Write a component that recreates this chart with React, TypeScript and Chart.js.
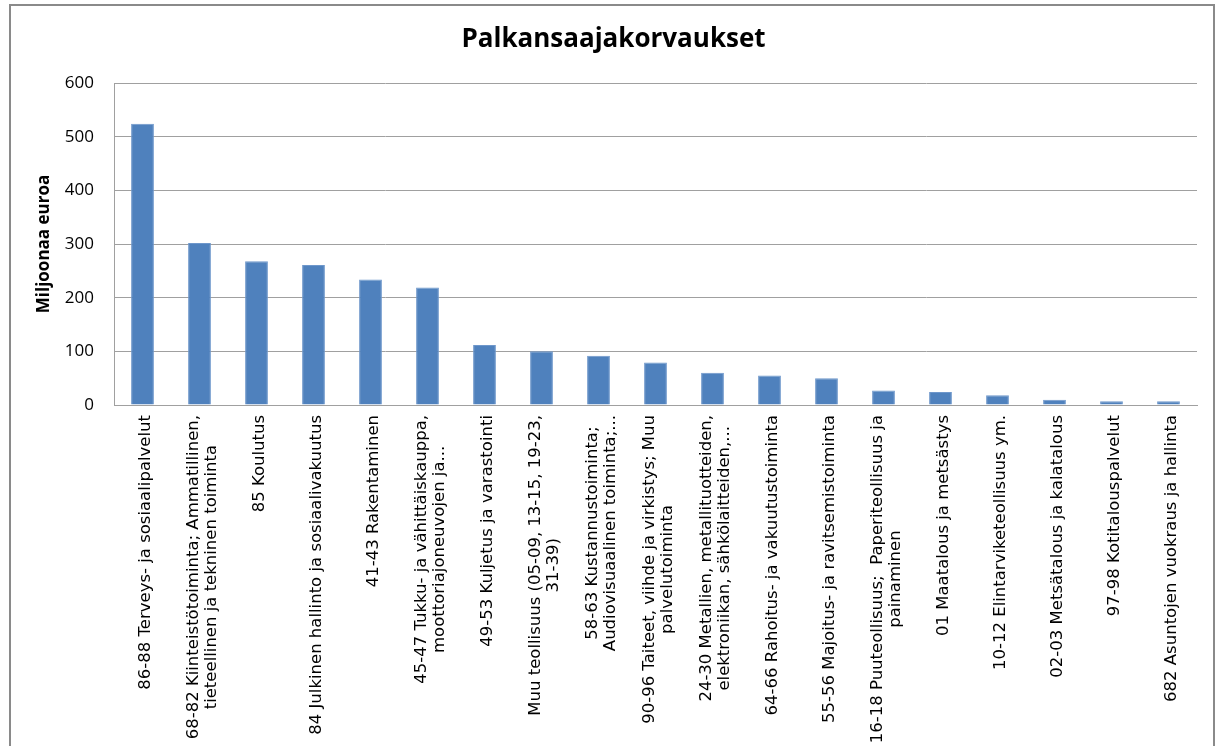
import React, { useEffect, useRef } from "react";
import { Chart, registerables } from "chart.js";

Chart.register(...registerables);

const categories: (string | string[])[] = [
  "86-88 Terveys- ja sosiaalipalvelut",
  ["68-82 Kiinteistötoiminta; Ammatillinen,", "tieteellinen ja tekninen toiminta"],
  "85 Koulutus",
  "84 Julkinen hallinto ja sosiaalivakuutus",
  "41-43 Rakentaminen",
  ["45-47 Tukku- ja vähittäiskauppa,", "moottoriajoneuvojen ja..."],
  "49-53 Kuljetus ja varastointi",
  ["Muu teollisuus (05-09, 13-15, 19-23,", "31-39)"],
  ["58-63 Kustannustoiminta;", "Audiovisuaalinen toiminta;..."],
  ["90-96 Taiteet, viihde ja virkistys; Muu", "palvelutoiminta"],
  ["24-30 Metallien, metallituotteiden,", "elektroniikan, sähkölaitteiden,..."],
  "64-66 Rahoitus- ja vakuutustoiminta",
  "55-56 Majoitus- ja ravitsemistoiminta",
  ["16-18 Puuteollisuus;  Paperiteollisuus ja", "painaminen"],
  "01 Maatalous ja metsästys",
  "10-12 Elintarviketeollisuus ym.",
  "02-03 Metsätalous ja kalatalous",
  "97-98 Kotitalouspalvelut",
  "682 Asuntojen vuokraus ja hallinta",
];

const values: number[] = [524, 302, 268, 261, 234, 219, 112, 100, 92, 79, 60, 55, 50, 27, 24, 18, 10, 7, 7];

const yTicks: number[] = [0, 100, 200, 300, 400, 500, 600];

const chartTitle = "Palkansaajakorvaukset";
const yTitle = "Miljoonaa euroa";

const xLabelPlugin = {
  id: "xLabelsCentered",
  afterDraw(chart: any) {
    const ctx = chart.ctx as CanvasRenderingContext2D;
    const xs = chart.scales.x;
    ctx.save();
    ctx.font = '16.5px "DejaVu Sans"';
    ctx.fillStyle = "#000000";
    ctx.textBaseline = "middle";
    ctx.textAlign = "center";
    const lh = 18;
    categories.forEach((lbl, i) => {
      const lines = Array.isArray(lbl) ? lbl : [lbl];
      const maxW = Math.max(...lines.map((l) => ctx.measureText(l).width));
      const x = xs.getPixelForValue(i);
      const y = xs.top + 10;
      ctx.save();
      ctx.translate(x + 3, y + maxW / 2);
      ctx.rotate(-Math.PI / 2);
      lines.forEach((l, j) => {
        ctx.fillText(l, 0, (j - (lines.length - 1) / 2) * lh);
      });
      ctx.restore();
    });
    ctx.restore();
  },
};

export default function App() {
  const ref = useRef<HTMLCanvasElement>(null);
  useEffect(() => {
    const chart = new Chart(ref.current!, {
      type: "bar",
      data: {
        labels: categories.map((c) => (Array.isArray(c) ? c.join(" ") : c)),
        datasets: [
          {
            data: values,
            backgroundColor: "#4F81BD",
            borderColor: "#6E97CB",
            borderWidth: 1,
            barPercentage: 1,
            categoryPercentage: 0.4,
          },
        ],
      },
      options: {
        animation: false,
        responsive: false,
        devicePixelRatio: 1,
        layout: { padding: { left: 8, right: 0, top: 0, bottom: 0 } },
        plugins: {
          legend: { display: false },
          tooltip: { enabled: false },
          title: {
            display: true,
            text: chartTitle,
            color: "#000000",
            font: { family: '"Open Sans"', size: 26, weight: "bold", lineHeight: 1.2 },
            padding: { top: 24.4, bottom: 27.4 },
          },
        },
        scales: {
          x: {
            grid: { display: false, drawTicks: false },
            border: { display: true, color: "#a0a0a0", width: 1 },
            ticks: { display: false },
            afterFit: (s: any) => {
              s.height = 341;
            },
          },
          y: {
            min: 0,
            max: 600,
            afterBuildTicks: (s: any) => {
              s.ticks = yTicks.map((v) => ({ value: v }));
            },
            grid: { color: "#a0a0a0", lineWidth: 1, drawTicks: false },
            border: { display: true, color: "#a0a0a0", width: 1 },
            ticks: {
              padding: 20,
              color: "#000000",
              font: { family: '"Open Sans"', size: 17 },
            },
            title: {
              display: true,
              text: yTitle,
              color: "#000000",
              font: { family: '"Open Sans"', size: 17, weight: "bold" },
              padding: { top: 26, bottom: 0 },
            },
            afterFit: (s: any) => {
              s.width = 106;
            },
          },
          yRight: {
            position: "right",
            display: true,
            min: 0,
            max: 600,
            grid: { display: false, drawTicks: false },
            border: { display: false },
            ticks: { display: false },
            afterFit: (s: any) => {
              s.width = 22;
            },
          },
        },
      },
      plugins: [xLabelPlugin],
    });
    return () => chart.destroy();
  }, []);
  return (
    <div
      style={{
        position: "fixed",
        left: 0,
        top: 0,
        width: 1219,
        height: 746,
        background: "#ffffff",
        overflow: "hidden",
      }}
    >
      <canvas ref={ref} width={1219} height={746} style={{ position: "absolute", left: 0, top: 0 }} />
      <div
        style={{
          position: "absolute",
          left: 9,
          top: 4,
          width: 1206,
          height: 800,
          border: "2px solid #8a8a8a",
          boxSizing: "border-box",
          pointerEvents: "none",
        }}
      />
    </div>
  );
}
